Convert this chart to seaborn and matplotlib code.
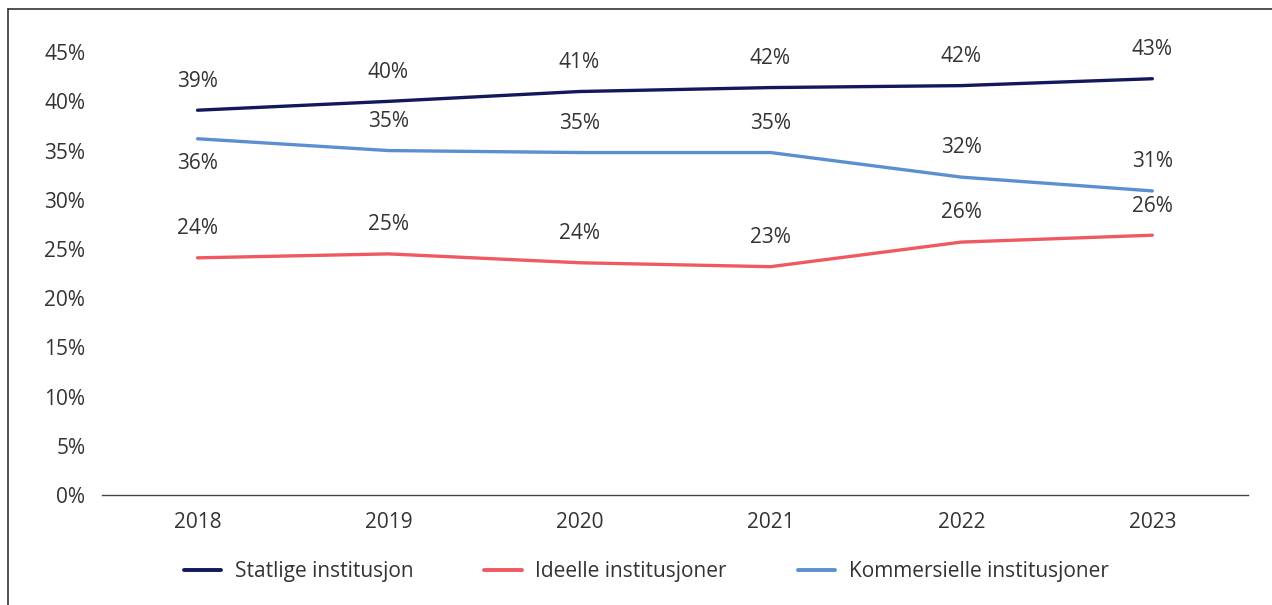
import matplotlib
matplotlib.use("Agg")
import matplotlib.pyplot as plt
import seaborn as sns
import pandas as pd
from matplotlib.lines import Line2D

years = ["2018", "2019", "2020", "2021", "2022", "2023"]
series_names = ["Statlige institusjon", "Ideelle institusjoner", "Kommersielle institusjoner"]
statlige = [0.391, 0.400, 0.410, 0.414, 0.416, 0.423]
ideelle = [0.241, 0.245, 0.236, 0.232, 0.257, 0.264]
kommersielle = [0.362, 0.350, 0.348, 0.348, 0.323, 0.309]
statlige_labels = ["39%", "40%", "41%", "42%", "42%", "43%"]
ideelle_labels = ["24%", "25%", "24%", "23%", "26%", "26%"]
kommersielle_labels = ["36%", "35%", "35%", "35%", "32%", "31%"]
colors = ["#13185c", "#ef5a62", "#5b90d0"]
yticks = [0, 0.05, 0.10, 0.15, 0.20, 0.25, 0.30, 0.35, 0.40, 0.45]

sns.set_theme(style="white")
plt.rcParams["font.family"] = ["Open Sans", "DejaVu Sans"]
text_color = "#333333"
fs = 15

rows = []
for name, vals in zip(series_names, [statlige, ideelle, kommersielle]):
    for i, v in enumerate(vals):
        rows.append({"x": i, "year": years[i], "value": v, "series": name})
df = pd.DataFrame(rows)

fig = plt.figure(figsize=(12.72, 6.05), dpi=100)
ax = fig.add_axes([0.0802, 0.1818, 0.9008, 0.732])

sns.lineplot(data=df, x="x", y="value", hue="series", hue_order=series_names,
             palette=colors, linewidth=2.4, ax=ax, legend=False, sort=False)
for l in ax.lines:
    l.set_clip_on(False)
    l.set_solid_capstyle("round")

ax.set_xlim(-0.5, 5.5)
ax.set_ylim(0, 0.45)
ax.set_xticks(range(len(years)))
ax.set_xticklabels(years)
ax.set_yticks(yticks)
ax.set_yticklabels([f"{int(round(t*100))}%" for t in yticks])
ax.tick_params(axis="both", length=0, labelsize=fs, labelcolor=text_color)
ax.tick_params(axis="y", pad=12)
ax.tick_params(axis="x", pad=12)
ax.set_xlabel("")
ax.set_ylabel("")
for s in ["top", "right", "left"]:
    ax.spines[s].set_visible(False)
ax.spines["bottom"].set_color("#444444")
ax.spines["bottom"].set_linewidth(1.0)

# data labels: offsets in points (positive = above)
stat_off = [21, 21, 21, 21, 21, 21]
ide_off = [21, 21, 21, 21, 21, 21]
kom_off = [-17.5, 21, 21, 21, 21, 21]
for vals, labs, offs in [(statlige, statlige_labels, stat_off),
                         (ideelle, ideelle_labels, ide_off),
                         (kommersielle, kommersielle_labels, kom_off)]:
    for i, (v, lab, o) in enumerate(zip(vals, labs, offs)):
        ax.annotate(lab, (i, v), xytext=(0, o), textcoords="offset points",
                    ha="center", va="center", fontsize=fs, color=text_color,
                    annotation_clip=False)

handles = [Line2D([0], [0], color=c, linewidth=2.8, solid_capstyle="round") for c in colors]
fig.legend(handles, series_names, loc="center", bbox_to_anchor=(0.508, 0.055),
           ncol=3, frameon=False, fontsize=fs, handlelength=1.8,
           columnspacing=3.4, handletextpad=0.65, labelcolor=text_color)

# outer frame (left and top edges visible)
fig.add_artist(Line2D([8/1272, 8/1272], [0, 1 - 9/605], transform=fig.transFigure,
                      color="#333333", linewidth=1.2))
fig.add_artist(Line2D([8/1272, 1], [1 - 9/605, 1 - 9/605], transform=fig.transFigure,
                      color="#333333", linewidth=1.2))

fig.savefig("out.png", dpi=100, facecolor="white")
